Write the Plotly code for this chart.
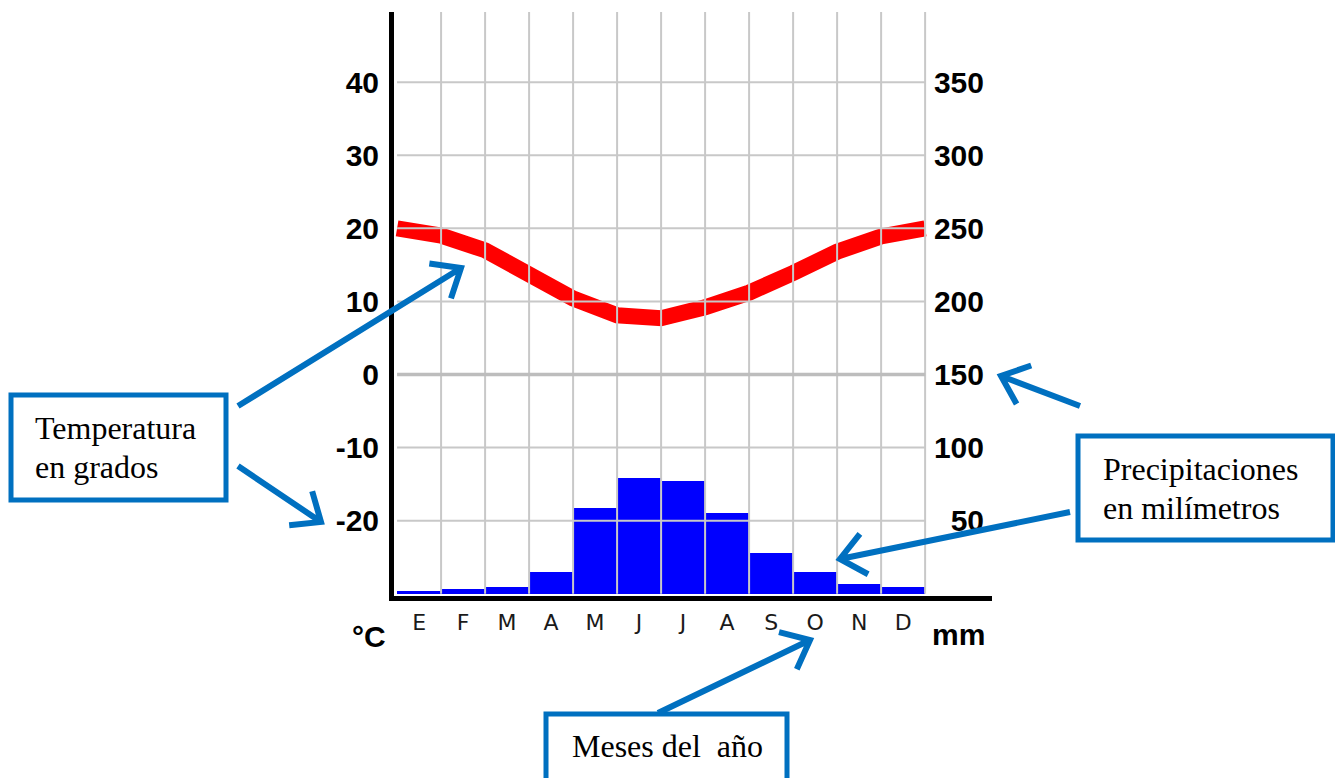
import math
import numpy as np
import plotly.graph_objects as go

# ---------------- data ----------------
months = ["E", "F", "M", "A", "M", "J", "J", "A", "S", "O", "N", "D"]
precip_mm = [2, 3, 5, 15, 59, 79, 77, 55, 28, 15, 7, 5]
# temperature read at month boundaries (start of Jan ... end of Dec)
temp_boundaries = [20.0, 19.0, 17.0, 13.7, 10.4, 8.1, 7.7, 9.2, 11.2, 13.9, 16.8, 18.9, 20.0]
temp_ticks = [-20, -10, 0, 10, 20, 30, 40]
temp_tick_text = ["-20", "-10", "0", "10", "20", "30", "40"]
precip_ticks = [50, 100, 150, 200, 250, 300, 350]

# ---------------- layout geometry (pixels, as seen on the page) ----------------
W, H = 1343, 778
OFF = 8  # page offset of the figure inside the browser
L_PX, R_PX, T_PX, B_PX = 394, 992, 12, 596
Y_RANGE = [-30.3, 49.6]
Y2_RANGE = [(v + 30) * 5 for v in Y_RANGE]
X_RANGE = [-0.07, 13.52]

BLUE = "#0070C0"
GRID = "#c8c8c8"


def px(x):
    return (x - L_PX) / (R_PX - L_PX)


def py(y):
    return (B_PX - y) / (B_PX - T_PX)


n = len(months)
x_centers = np.arange(n) + 0.5
x_bounds = np.arange(n + 1)

fig = go.Figure()
fig.add_trace(go.Bar(
    x=x_centers, y=precip_mm, width=1.0, yaxis="y2",
    marker=dict(color="#0000FF", line=dict(width=0)),
    showlegend=False, hoverinfo="skip"))
fig.add_trace(go.Scatter(
    x=x_bounds, y=temp_boundaries, mode="lines",
    line=dict(color="#FF0000", width=16),
    showlegend=False, hoverinfo="skip"))

shapes = []
# grid (drawn above the marks, as in the reference)
for xb in x_bounds[1:]:
    shapes.append(dict(type="line", xref="x", yref="y", x0=xb, x1=xb,
                       y0=-30, y1=Y_RANGE[1], line=dict(color=GRID, width=2), layer="above"))
for t in temp_ticks:
    if t == 0:
        continue
    shapes.append(dict(type="line", xref="x", yref="y", x0=0, x1=n, y0=t, y1=t,
                       line=dict(color=GRID, width=2), layer="above"))
shapes.append(dict(type="line", xref="x", yref="y", x0=0, x1=n, y0=0, y1=0,
                   line=dict(color="#bdbdbd", width=3.5), layer="above"))


def box(x0, y0, x1, y1):
    shapes.append(dict(type="rect", xref="paper", yref="paper",
                       x0=px(x0), x1=px(x1), y0=py(y1), y1=py(y0),
                       line=dict(color=BLUE, width=5), fillcolor="white", layer="above"))


def arrow(tail, tip, head=32, ang=40):
    (x0, y0), (x1, y1) = tail, tip
    d = math.hypot(x1 - x0, y1 - y0)
    ux, uy = (x1 - x0) / d, (y1 - y0) / d
    a = math.radians(ang)
    pts = []
    for s in (a, -a):
        rx = ux * math.cos(s) - uy * math.sin(s)
        ry = ux * math.sin(s) + uy * math.cos(s)
        pts.append((x1 - head * rx, y1 - head * ry))
    path = (f"M{px(x0)},{py(y0)} L{px(x1)},{py(y1)} "
            f"M{px(pts[0][0])},{py(pts[0][1])} L{px(x1)},{py(y1)} L{px(pts[1][0])},{py(pts[1][1])}")
    shapes.append(dict(type="path", xref="paper", yref="paper", path=path,
                       line=dict(color=BLUE, width=6), layer="above"))


box(11, 395, 226, 500)
box(1078, 436, 1333, 540)
box(546, 714, 787, 800)
arrow((238, 406), (461, 268))
arrow((238, 466), (321, 522))
arrow((1080, 406), (1001, 376))
arrow((1070, 512), (840, 559))
arrow((658, 713), (810, 640))

annotations = []
SERIF = dict(family="Liberation Serif", size=32, color="black")


def label(text, x, y, font, xanchor="left"):
    annotations.append(dict(text=text, xref="paper", yref="paper", x=px(x), y=py(y),
                            xanchor=xanchor, yanchor="middle", showarrow=False, font=font))


label("Temperatura", 33, 428, SERIF)
label("en grados", 33, 467, SERIF)
label("Precipitaciones", 1101, 469, SERIF)
label("en milímetros", 1101, 508, SERIF)
label("Meses del  año", 570, 746, SERIF)

BOLD = dict(family="Liberation Sans", size=30, color="black", weight="bold")
label("°C", 369, 636, BOLD, xanchor="center")
label("mm", 958, 634, BOLD, xanchor="center")

fig.update_layout(
    width=W, height=H,
    margin=dict(l=L_PX - OFF, r=W - R_PX + OFF, t=T_PX - OFF, b=H - B_PX + OFF, pad=0),
    plot_bgcolor="white", paper_bgcolor="white",
    bargap=0,
    xaxis=dict(range=X_RANGE, showgrid=False, zeroline=False, showline=True,
               linecolor="black", linewidth=5, ticks="",
               tickvals=list(x_centers), ticktext=months,
               tickfont=dict(family="DejaVu Sans", size=22, color="#1a1a1a"),
               ticklabelstandoff=3),
    yaxis=dict(range=Y_RANGE, showgrid=False, zeroline=False, showline=True,
               linecolor="black", linewidth=5, ticks="",
               tickvals=temp_ticks, ticktext=temp_tick_text, tickfont=BOLD,
               ticklabelstandoff=4),
    yaxis2=dict(range=Y2_RANGE, overlaying="y", side="right", anchor="free", position=1,
                showgrid=False, zeroline=False, showline=False, ticks="",
                tickvals=precip_ticks, ticklabelposition="inside", tickfont=BOLD,
                ticklabelstandoff=5),
    shapes=shapes, annotations=annotations,
)

fig.write_html("out.html")
